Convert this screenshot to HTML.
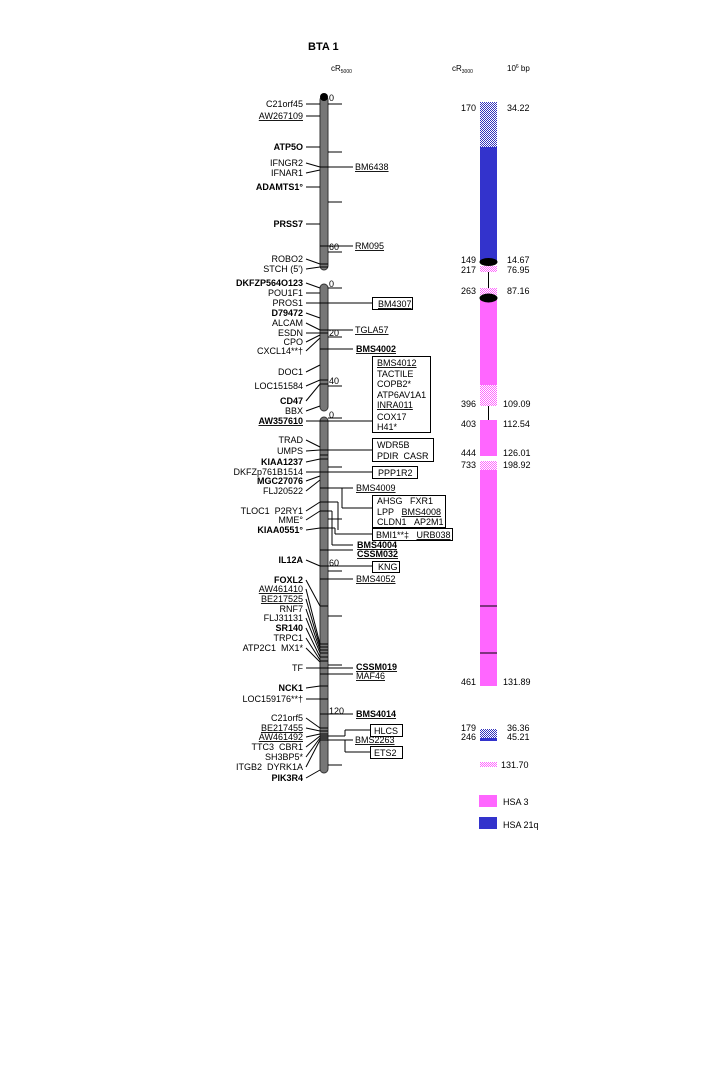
<!DOCTYPE html>
<html><head><meta charset="utf-8"><style>
body{margin:0;background:#fff}
svg text{font-family:"Liberation Sans",Arial,sans-serif;font-size:9px;fill:#000}
.b{font-weight:bold}
.r{text-anchor:end}
</style></head><body>
<svg width="720" height="1080" viewBox="0 0 720 1080" xmlns="http://www.w3.org/2000/svg">
<defs>
<pattern id="hb" width="2" height="2" patternUnits="userSpaceOnUse"><rect width="2" height="2" fill="#fff"/><rect width="1" height="1" fill="#3333bb"/><rect x="1" y="1" width="1" height="1" fill="#3333bb"/></pattern>
<pattern id="hp" width="2" height="2" patternUnits="userSpaceOnUse"><rect width="2" height="2" fill="#fff"/><rect width="1" height="1" fill="#ff66ff"/><rect x="1" y="1" width="1" height="1" fill="#ff66ff"/></pattern>
</defs>
<text x="308" y="50" class="b" style="font-size:11px">BTA 1</text>
<text x="331" y="71" style="font-size:8px">cR<tspan style="font-size:5px" dy="2">5000</tspan></text>
<text x="452" y="71" style="font-size:8px">cR<tspan style="font-size:5px" dy="2">3000</tspan></text>
<text x="507" y="71" style="font-size:8px">10<tspan style="font-size:5px" dy="-3">6</tspan><tspan dy="3"> bp</tspan></text>

<g fill="#777" stroke="#333" stroke-width="1">
<rect x="320" y="96" width="8" height="174" rx="4"/>
<rect x="320" y="284" width="8" height="127" rx="4"/>
<rect x="320" y="417" width="8" height="356" rx="4"/>
</g>
<circle cx="324" cy="97" r="4" fill="#000"/>

<g stroke="#000" stroke-width="1">
<line x1="328" y1="104" x2="342" y2="104"/><line x1="328" y1="152" x2="342" y2="152"/><line x1="328" y1="202" x2="342" y2="202"/>
<line x1="320" y1="167" x2="353" y2="167"/><line x1="320" y1="246" x2="353" y2="246"/><line x1="328" y1="252" x2="342" y2="252"/>
<line x1="320" y1="264" x2="328" y2="264"/><line x1="320" y1="267" x2="328" y2="267"/>
<line x1="328" y1="288" x2="342" y2="288"/><line x1="320" y1="303" x2="372" y2="303"/>
<line x1="320" y1="330" x2="353" y2="330"/><line x1="320" y1="333" x2="328" y2="333"/><line x1="328" y1="337" x2="342" y2="337"/>
<line x1="320" y1="349" x2="353" y2="349"/><line x1="328" y1="386" x2="342" y2="386"/>
<line x1="320" y1="380" x2="328" y2="380"/><line x1="320" y1="384" x2="328" y2="384"/>
<line x1="320" y1="421" x2="372" y2="421"/><line x1="328" y1="418" x2="342" y2="418"/>
<line x1="320" y1="450" x2="372" y2="450"/><line x1="320" y1="455" x2="328" y2="455"/><line x1="320" y1="459" x2="328" y2="459"/>
<line x1="328" y1="467" x2="342" y2="467"/><line x1="320" y1="472" x2="372" y2="472"/>
<line x1="320" y1="488" x2="353" y2="488"/>
<line x1="342" y1="488" x2="342" y2="508"/><line x1="342" y1="508" x2="372" y2="508"/>
<line x1="320" y1="502" x2="338" y2="502"/><line x1="338" y1="502" x2="338" y2="530"/>
<line x1="328" y1="519" x2="342" y2="519"/>
<line x1="320" y1="528" x2="335" y2="528"/><line x1="335" y1="528" x2="335" y2="534"/><line x1="335" y1="534" x2="372" y2="534"/>
<line x1="320" y1="511" x2="332" y2="511"/><line x1="332" y1="511" x2="332" y2="545"/><line x1="332" y1="545" x2="353" y2="545"/>
<line x1="320" y1="550" x2="353" y2="550"/>
<line x1="320" y1="566" x2="372" y2="566"/><line x1="328" y1="571" x2="342" y2="571"/>
<line x1="320" y1="579" x2="353" y2="579"/>
<line x1="320" y1="606" x2="328" y2="606"/><line x1="328" y1="616" x2="342" y2="616"/>
<line x1="320" y1="644" x2="328" y2="644"/><line x1="320" y1="647" x2="328" y2="647"/><line x1="320" y1="650" x2="328" y2="650"/><line x1="320" y1="653" x2="328" y2="653"/><line x1="320" y1="657" x2="328" y2="657"/><line x1="320" y1="661" x2="328" y2="661"/>
<line x1="328" y1="665" x2="342" y2="665"/><line x1="320" y1="668" x2="353" y2="668"/><line x1="320" y1="674" x2="353" y2="674"/>
<line x1="320" y1="686" x2="328" y2="686"/><line x1="320" y1="699" x2="328" y2="699"/>
<line x1="320" y1="714" x2="353" y2="714"/>
<line x1="320" y1="728" x2="328" y2="728"/><line x1="320" y1="731" x2="328" y2="731"/><line x1="320" y1="734" x2="328" y2="734"/><line x1="320" y1="738" x2="328" y2="738"/>
<line x1="320" y1="736" x2="345" y2="736"/><line x1="345" y1="736" x2="345" y2="730"/><line x1="345" y1="730" x2="370" y2="730"/>
<line x1="320" y1="740" x2="353" y2="740"/>
<line x1="345" y1="740" x2="345" y2="752"/><line x1="345" y1="752" x2="370" y2="752"/>
<line x1="328" y1="765" x2="342" y2="765"/>
<line x1="306" y1="104" x2="320" y2="104"/><line x1="306" y1="116" x2="320" y2="116"/>
<line x1="306" y1="147" x2="320" y2="147"/><line x1="306" y1="163" x2="320" y2="167"/><line x1="306" y1="173" x2="320" y2="170"/>
<line x1="306" y1="187" x2="320" y2="187"/><line x1="306" y1="224" x2="320" y2="224"/>
<line x1="306" y1="259" x2="320" y2="264"/><line x1="306" y1="269" x2="320" y2="267"/>
<line x1="306" y1="283" x2="320" y2="288"/><line x1="306" y1="293" x2="320" y2="293"/><line x1="306" y1="303" x2="320" y2="303"/>
<line x1="306" y1="313" x2="320" y2="318"/><line x1="306" y1="323" x2="320" y2="330"/><line x1="306" y1="333" x2="320" y2="333"/>
<line x1="306" y1="342" x2="320" y2="335"/><line x1="306" y1="351" x2="320" y2="338"/>
<line x1="306" y1="372" x2="320" y2="365"/><line x1="306" y1="386" x2="320" y2="380"/>
<line x1="306" y1="401" x2="320" y2="384"/><line x1="306" y1="411" x2="320" y2="406"/><line x1="306" y1="421" x2="320" y2="421"/>
<line x1="306" y1="440" x2="320" y2="447"/><line x1="306" y1="451" x2="320" y2="450"/><line x1="306" y1="462" x2="320" y2="459"/>
<line x1="306" y1="472" x2="320" y2="472"/><line x1="306" y1="481" x2="320" y2="476"/><line x1="306" y1="491" x2="320" y2="480"/>
<line x1="306" y1="511" x2="320" y2="502"/><line x1="306" y1="520" x2="320" y2="511"/><line x1="306" y1="530" x2="320" y2="528"/>
<line x1="306" y1="560" x2="320" y2="566"/>
<line x1="306" y1="580" x2="320" y2="606"/><line x1="306" y1="589" x2="320" y2="644"/><line x1="306" y1="599" x2="320" y2="647"/>
<line x1="306" y1="609" x2="320" y2="650"/><line x1="306" y1="618" x2="320" y2="653"/><line x1="306" y1="628" x2="320" y2="657"/>
<line x1="306" y1="638" x2="320" y2="660"/><line x1="306" y1="648" x2="320" y2="662"/>
<line x1="306" y1="668" x2="320" y2="668"/><line x1="306" y1="688" x2="320" y2="686"/><line x1="306" y1="699" x2="320" y2="699"/>
<line x1="306" y1="718" x2="320" y2="728"/><line x1="306" y1="728" x2="320" y2="731"/><line x1="306" y1="737" x2="320" y2="734"/>
<line x1="306" y1="747" x2="320" y2="736"/><line x1="306" y1="757" x2="320" y2="738"/><line x1="306" y1="767" x2="320" y2="740"/>
<line x1="306" y1="778" x2="320" y2="770"/>
</g>

<g>
<text x="303" y="107" class="r">C21orf45</text>
<text x="303" y="119" class="r" text-decoration="underline">AW267109</text>
<text x="303" y="150" class="r b">ATP5O</text>
<text x="303" y="166" class="r">IFNGR2</text>
<text x="303" y="176" class="r">IFNAR1</text>
<text x="303" y="190" class="r b">ADAMTS1°</text>
<text x="303" y="227" class="r b">PRSS7</text>
<text x="303" y="262" class="r">ROBO2</text>
<text x="303" y="272" class="r">STCH (5')</text>
<text x="303" y="286" class="r b">DKFZP564O123</text>
<text x="303" y="296" class="r">POU1F1</text>
<text x="303" y="306" class="r">PROS1</text>
<text x="303" y="316" class="r b">D79472</text>
<text x="303" y="326" class="r">ALCAM</text>
<text x="303" y="336" class="r">ESDN</text>
<text x="303" y="345" class="r">CPO</text>
<text x="303" y="354" class="r">CXCL14**†</text>
<text x="303" y="375" class="r">DOC1</text>
<text x="303" y="389" class="r">LOC151584</text>
<text x="303" y="404" class="r b">CD47</text>
<text x="303" y="414" class="r">BBX</text>
<text x="303" y="424" class="r b" text-decoration="underline">AW357610</text>
<text x="303" y="443" class="r">TRAD</text>
<text x="303" y="454" class="r">UMPS</text>
<text x="303" y="465" class="r b">KIAA1237</text>
<text x="303" y="475" class="r">DKFZp761B1514</text>
<text x="303" y="484" class="r b">MGC27076</text>
<text x="303" y="494" class="r">FLJ20522</text>
<text x="303" y="514" class="r">TLOC1&#160;&#160;P2RY1</text>
<text x="303" y="523" class="r">MME°</text>
<text x="303" y="533" class="r b">KIAA0551°</text>
<text x="303" y="563" class="r b">IL12A</text>
<text x="303" y="583" class="r b">FOXL2</text>
<text x="303" y="592" class="r" text-decoration="underline">AW461410</text>
<text x="303" y="602" class="r" text-decoration="underline">BE217525</text>
<text x="303" y="612" class="r">RNF7</text>
<text x="303" y="621" class="r">FLJ31131</text>
<text x="303" y="631" class="r b">SR140</text>
<text x="303" y="641" class="r">TRPC1</text>
<text x="303" y="651" class="r">ATP2C1&#160;&#160;MX1*</text>
<text x="303" y="671" class="r">TF</text>
<text x="303" y="691" class="r b">NCK1</text>
<text x="303" y="702" class="r">LOC159176**†</text>
<text x="303" y="721" class="r">C21orf5</text>
<text x="303" y="731" class="r" text-decoration="underline">BE217455</text>
<text x="303" y="740" class="r" text-decoration="underline">AW461492</text>
<text x="303" y="750" class="r">TTC3&#160;&#160;CBR1</text>
<text x="303" y="760" class="r">SH3BP5*</text>
<text x="303" y="770" class="r">ITGB2&#160;&#160;DYRK1A</text>
<text x="303" y="781" class="r b">PIK3R4</text>
</g>

<text x="329" y="101">0</text><text x="329" y="250">60</text>
<text x="329" y="287">0</text><text x="329" y="336">20</text><text x="329" y="384">40</text>
<text x="329" y="418">0</text><text x="329" y="566">60</text><text x="329" y="714">120</text>

<g text-decoration="underline">
<text x="355" y="170">BM6438</text>
<text x="355" y="249">RM095</text>
<text x="355" y="333">TGLA57</text>
<text x="356" y="352" class="b">BMS4002</text>
<text x="356" y="491">BMS4009</text>
<text x="357" y="548" class="b">BMS4004</text>
<text x="357" y="557" class="b">CSSM032</text>
<text x="356" y="582">BMS4052</text>
<text x="356" y="670" class="b">CSSM019</text>
<text x="356" y="679">MAF46</text>
<text x="356" y="717" class="b">BMS4014</text>
<text x="355" y="743">BMS2263</text>
</g>
<g fill="#fff" stroke="#000" stroke-width="1">
<rect x="372.5" y="297.5" width="40" height="12"/>
<rect x="372.5" y="356.5" width="58" height="76"/>
<rect x="372.5" y="438.5" width="61" height="23"/>
<rect x="372.5" y="466.5" width="45" height="12"/>
<rect x="372.5" y="495.5" width="73" height="32"/>
<rect x="372.5" y="528.5" width="80" height="12"/>
<rect x="372.5" y="561.5" width="27" height="11"/>
<rect x="370.5" y="724.5" width="32" height="12"/>
<rect x="370.5" y="746.5" width="32" height="12"/>
</g>
<text x="378" y="307" text-decoration="underline">BM4307</text>
<text x="377" y="366" text-decoration="underline">BMS4012</text>
<text x="377" y="377">TACTILE</text>
<text x="377" y="387">COPB2*</text>
<text x="377" y="398">ATP6AV1A1</text>
<text x="377" y="408" text-decoration="underline">INRA011</text>
<text x="377" y="420">COX17</text>
<text x="377" y="430">H41*</text>
<text x="377" y="448">WDR5B</text>
<text x="377" y="459">PDIR&#160;&#160;CASR</text>
<text x="378" y="476">PPP1R2</text>
<text x="377" y="504">AHSG&#160;&#160;&#160;FXR1</text>
<text x="377" y="515">LPP&#160;&#160;&#160;<tspan text-decoration="underline">BMS4008</tspan></text>
<text x="377" y="525">CLDN1&#160;&#160;&#160;AP2M1</text>
<text x="376" y="538">BMI1**‡&#160;&#160;&#160;<tspan text-decoration="underline">URB038</tspan></text>
<text x="378" y="570">KNG</text>
<text x="374" y="734">HLCS</text>
<text x="374" y="756">ETS2</text>

<rect x="480" y="102" width="17" height="45" fill="url(#hb)"/>
<rect x="480" y="147" width="17" height="114" fill="#3333cc"/>
<ellipse cx="488.5" cy="262" rx="9" ry="4" fill="#000"/>
<rect x="480" y="266" width="17" height="6" fill="url(#hp)"/>
<line x1="488.5" y1="272" x2="488.5" y2="288" stroke="#000"/>
<rect x="480" y="288" width="17" height="7" fill="url(#hp)"/>
<rect x="480" y="299" width="17" height="86" fill="#ff66ff"/>
<ellipse cx="488.5" cy="298" rx="9" ry="4.5" fill="#000"/>
<rect x="480" y="385" width="17" height="21" fill="url(#hp)"/>
<line x1="488.5" y1="406" x2="488.5" y2="420" stroke="#000"/>
<rect x="480" y="420" width="17" height="36" fill="#ff66ff"/>
<rect x="480" y="461" width="17" height="9" fill="url(#hp)"/>
<rect x="480" y="470" width="17" height="216" fill="#ff66ff"/>
<line x1="480" y1="606" x2="497" y2="606" stroke="#000"/>
<line x1="480" y1="653" x2="497" y2="653" stroke="#000"/>
<rect x="480" y="729" width="17" height="9" fill="url(#hb)"/>
<rect x="480" y="738" width="17" height="3" fill="#3333cc"/>
<rect x="480" y="762" width="17" height="5" fill="url(#hp)"/>
<rect x="479" y="795" width="18" height="12" fill="#ff66ff"/>
<rect x="479" y="817" width="18" height="12" fill="#3333cc"/>

<g>
<text x="476" y="111" class="r">170</text>
<text x="476" y="263" class="r">149</text>
<text x="476" y="273" class="r">217</text>
<text x="476" y="294" class="r">263</text>
<text x="476" y="407" class="r">396</text>
<text x="476" y="427" class="r">403</text>
<text x="476" y="456" class="r">444</text>
<text x="476" y="468" class="r">733</text>
<text x="476" y="685" class="r">461</text>
<text x="476" y="731" class="r">179</text>
<text x="476" y="740" class="r">246</text>
</g>
<text x="507" y="111">34.22</text>
<text x="507" y="263">14.67</text>
<text x="507" y="273">76.95</text>
<text x="507" y="294">87.16</text>
<text x="503" y="407">109.09</text>
<text x="503" y="427">112.54</text>
<text x="503" y="456">126.01</text>
<text x="503" y="468">198.92</text>
<text x="503" y="685">131.89</text>
<text x="507" y="731">36.36</text>
<text x="507" y="740">45.21</text>
<text x="501" y="768">131.70</text>
<text x="503" y="805">HSA 3</text>
<text x="503" y="828">HSA 21q</text>
</svg>
</body></html>
